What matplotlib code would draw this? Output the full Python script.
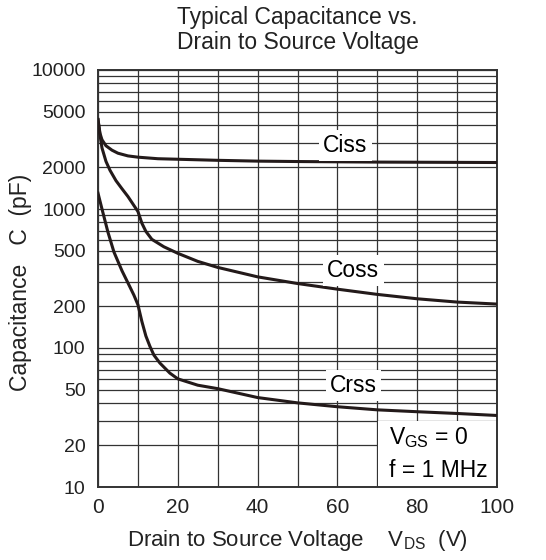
import matplotlib
matplotlib.use('Agg')
import matplotlib.pyplot as plt
from matplotlib.patches import Rectangle
from matplotlib.ticker import FixedLocator, NullFormatter
import numpy as np

plt.rcParams['font.family'] = ['Liberation Sans', 'DejaVu Sans']
plt.rcParams['mathtext.fontset'] = 'custom'
plt.rcParams['mathtext.rm'] = 'Liberation Sans'

# data
vds_ciss = [0, 0.5, 1, 2, 3.5, 5, 7.5, 10, 15, 20, 30, 40, 50, 60, 70, 80, 90, 100]
ciss = [4400, 3500, 3150, 2850, 2650, 2520, 2410, 2360, 2300, 2280, 2240, 2210,
        2195, 2185, 2175, 2170, 2165, 2160]

vds_coss = [0, 0.5, 1, 2, 3, 4.5, 6, 7.5, 9, 10, 11, 12, 13.5, 16.5, 20, 25, 30,
            40, 50, 60, 70, 80, 90, 100]
coss = [4400, 3400, 2750, 2200, 1900, 1600, 1400, 1230, 1060, 960, 790, 690, 605,
        535, 480, 420, 380, 325, 291, 265, 243, 226, 214, 207]

vds_crss = [0, 1, 2.5, 4, 6, 8, 9, 10, 11, 12, 13, 14, 15.5, 18, 20, 25, 30, 40,
            50, 60, 70, 80, 90, 100]
crss = [1300, 1000, 680, 490, 360, 275, 240, 205, 155, 122, 103, 89, 78, 66, 60,
        54, 51, 44, 40.3, 37.8, 35.9, 34.8, 33.8, 32.7]

y_labels = [10, 20, 50, 100, 200, 500, 1000, 2000, 5000, 10000]
x_labels = [0, 20, 40, 60, 80, 100]

fig = plt.figure(figsize=(5.46, 5.60), dpi=100)
ax = fig.add_axes([98 / 546, 1 - 487 / 560, 399 / 546, 417 / 560])

ax.set_yscale('log')
ax.set_xlim(0, 100)
ax.set_ylim(10, 10000)

# grid: every 10 V, every 1-9 multiple per decade
all_y = [m * 10 ** d for d in range(1, 4) for m in range(1, 10)] + [10000]
ax.yaxis.set_major_locator(FixedLocator(y_labels))
ax.yaxis.set_minor_locator(FixedLocator([v for v in all_y if v not in y_labels]))
ax.yaxis.set_minor_formatter(NullFormatter())
ax.set_yticklabels([str(v) for v in y_labels])
ax.xaxis.set_major_locator(FixedLocator(x_labels))
ax.xaxis.set_minor_locator(FixedLocator(list(range(10, 100, 20))))
ax.set_xticklabels([str(v) for v in x_labels])

ax.grid(which='both', color='#333333', linewidth=0.9)
ax.set_axisbelow(True)
ax.tick_params(which='both', length=0)
ax.tick_params(axis='y', labelsize=14, pad=9, colors='#222222')
ax.tick_params(axis='x', labelsize=15, pad=8, colors='#222222')
for s in ax.spines.values():
    s.set_linewidth(1.4)
    s.set_color('#333333')

lc = '#231a1a'
ax.plot(vds_ciss, ciss, color=lc, linewidth=2.2, zorder=3)
ax.plot(vds_coss, coss, color=lc, linewidth=2.2, zorder=3)
ax.plot(vds_crss, crss, color=lc, linewidth=2.2, zorder=3)

box = dict(facecolor='white', edgecolor='none', pad=3)
ax.text(62, 2850, 'Ciss', fontsize=16.5, ha='center', va='center', bbox=box, zorder=4)
ax.text(64, 360, 'Coss', fontsize=16.5, ha='center', va='center', bbox=box, zorder=4)
ax.text(64, 54, 'Crss', fontsize=16.5, ha='center', va='center', bbox=box, zorder=4)

ax.add_patch(Rectangle((70.3, 10), 29.7, 19.6, facecolor='white', edgecolor='none', zorder=2))
ax.text(73, 22.8, r'V$_{\mathregular{GS}}$ = 0', fontsize=16.5, ha='left', va='center', zorder=4)
ax.text(73, 13.2, 'f = 1 MHz', fontsize=16.5, ha='left', va='center', zorder=4)

ax.set_title('Typical Capacitance vs.\nDrain to Source Voltage', fontsize=16.5, pad=15,
             color='#222222', linespacing=1.1)
ax.set_xlabel(r'Drain to Source Voltage    V$_{\mathregular{DS}}$  (V)', fontsize=16,
              labelpad=8, color='#222222')
ax.set_ylabel('Capacitance   C  (pF)', fontsize=16.5, color='#222222')
ax.yaxis.set_label_coords(-0.165, 0.49)

fig.savefig('out.png', dpi=100, facecolor='white')
